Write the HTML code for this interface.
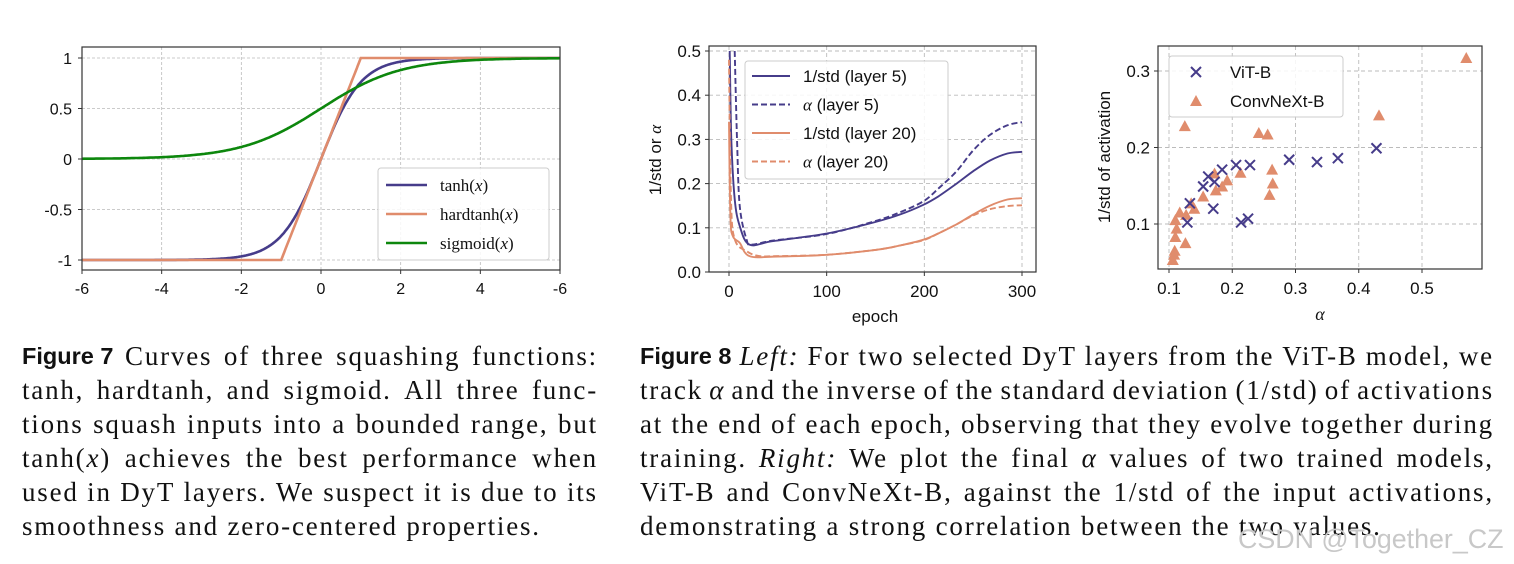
<!DOCTYPE html>
<html><head><meta charset="utf-8">
<style>
body{margin:0;background:#fff;width:1514px;height:564px;overflow:hidden;position:relative;font-family:"Liberation Sans",sans-serif}
svg{position:absolute;left:0;top:0}
.cap{position:absolute;font-family:"Liberation Serif",serif;font-size:27px;letter-spacing:1.8px;color:#111;line-height:34px}
.cap div{white-space:nowrap;height:34px}
.cap div.j{display:flex;justify-content:space-between}
.fl{font-family:"Liberation Sans",sans-serif;font-weight:bold;font-size:23.5px;letter-spacing:0}
.wm{position:absolute;left:1238px;top:524px;font-size:26.8px;color:#c8c8c8;font-family:"Liberation Sans",sans-serif}
</style></head><body>
<svg id="svg" width="1514" height="564"></svg>

<div class="cap" style="left:22px;top:339px;width:576px">
<div class="j"><span class="fl">Figure 7</span><span>Curves</span><span>of</span><span>three</span><span>squashing</span><span>functions:</span></div>
<div class="j"><span>tanh,</span><span>hardtanh,</span><span>and</span><span>sigmoid.</span><span>All</span><span>three</span><span>func-</span></div>
<div class="j"><span>tions</span><span>squash</span><span>inputs</span><span>into</span><span>a</span><span>bounded</span><span>range,</span><span>but</span></div>
<div class="j"><span>tanh(<i>x</i>)</span><span>achieves</span><span>the</span><span>best</span><span>performance</span><span>when</span></div>
<div class="j"><span>used</span><span>in</span><span>DyT</span><span>layers.</span><span>We</span><span>suspect</span><span>it</span><span>is</span><span>due</span><span>to</span><span>its</span></div>
<div>smoothness and zero-centered properties.</div>
</div>

<div class="cap" style="left:640px;top:339px;width:854px">
<div class="j"><span class="fl">Figure 8</span><span><i>Left:</i></span><span>For</span><span>two</span><span>selected</span><span>DyT</span><span>layers</span><span>from</span><span>the</span><span>ViT-B</span><span>model,</span><span>we</span></div>
<div class="j"><span>track</span><span><i>α</i></span><span>and</span><span>the</span><span>inverse</span><span>of</span><span>the</span><span>standard</span><span>deviation</span><span>(1/std)</span><span>of</span><span>activations</span></div>
<div class="j"><span>at</span><span>the</span><span>end</span><span>of</span><span>each</span><span>epoch,</span><span>observing</span><span>that</span><span>they</span><span>evolve</span><span>together</span><span>during</span></div>
<div class="j"><span>training.</span><span><i>Right:</i></span><span>We</span><span>plot</span><span>the</span><span>final</span><span><i>α</i></span><span>values</span><span>of</span><span>two</span><span>trained</span><span>models,</span></div>
<div class="j"><span>ViT-B</span><span>and</span><span>ConvNeXt-B,</span><span>against</span><span>the</span><span>1/std</span><span>of</span><span>the</span><span>input</span><span>activations,</span></div>
<div>demonstrating a strong correlation between the two values.</div>
</div>
<div class="wm">CSDN @Together_CZ</div>

<script>
// ---- Figure 7 data ----
const f7X = [-6,-5.5,-5,-4.5,-4,-3.5,-3,-2.75,-2.5,-2.25,-2,-1.75,-1.5,-1.25,-1,-0.75,-0.5,-0.25,0,0.25,0.5,0.75,1,1.25,1.5,1.75,2,2.25,2.5,2.75,3,3.5,4,4.5,5,5.5,6];
const f7XTicks = [-6,-4,-2,0,2,4,6];
const f7XTickLabels = ["-6","-4","-2","0","2","4","-6"];
const f7YTicks = [1,0.5,0,-0.5,-1];
const f7YTickLabels = ["1","0.5","0","-0.5","-1"];
// ---- Figure 8 left data ----
const epochsL5 = [0.7,2.4,5.8,11,21,45,100,148,175,199,215,233,250,267,285,300];
const stdL5 = [0.5,0.30,0.165,0.104,0.062,0.07,0.087,0.112,0.13,0.152,0.172,0.2,0.228,0.252,0.268,0.272];
const epochsA5 = [5.8,8.2,11,18,23,45,100,148,175,199,215,233,250,267,285,300];
const alphaL5 = [0.5,0.30,0.15,0.073,0.062,0.071,0.086,0.114,0.135,0.16,0.19,0.228,0.275,0.31,0.332,0.339];
const epochsL20 = [0,1.4,4,11,21,50,100,150,175,199,215,233,250,267,285,300];
const stdL20 = [0.34,0.127,0.081,0.066,0.036,0.035,0.039,0.05,0.06,0.073,0.088,0.108,0.13,0.15,0.164,0.167];
const epochsA20 = [0,2,6,18,31,50,100,150,175,199,215,233,250,267,285,300];
const alphaL20 = [0.48,0.164,0.073,0.047,0.036,0.036,0.039,0.05,0.06,0.072,0.088,0.108,0.128,0.142,0.149,0.151];
const f8lXTicks = [0,100,200,300];
const f8lYTicks = [0,0.1,0.2,0.3,0.4,0.5];
// ---- Figure 8 right data ----
const vitAlpha = [0.129,0.133,0.154,0.162,0.172,0.170,0.184,0.206,0.214,0.225,0.228,0.290,0.334,0.367,0.428];
const vitStd   = [0.102,0.127,0.149,0.162,0.155,0.120,0.171,0.177,0.102,0.107,0.177,0.184,0.181,0.186,0.199];
const cnxAlpha = [0.125,0.106,0.108,0.109,0.110,0.112,0.110,0.117,0.127,0.126,0.135,0.140,0.154,0.172,0.174,0.184,0.192,0.213,0.242,0.256,0.259,0.263,0.264,0.432,0.570];
const cnxStd   = [0.228,0.053,0.060,0.065,0.083,0.094,0.105,0.115,0.112,0.075,0.127,0.120,0.136,0.166,0.144,0.149,0.157,0.167,0.219,0.217,0.138,0.171,0.153,0.242,0.317];
const f8rXTicks = [0.1,0.2,0.3,0.4,0.5];
const f8rYTicks = [0.1,0.2,0.3];

const NS="http://www.w3.org/2000/svg";
const svg=document.getElementById('svg');
const PUR="#463c8a", ORG="#e08c6c", GRN="#0d870d";
function mk(tag,attrs,parent){const e=document.createElementNS(NS,tag);for(const k in attrs)e.setAttribute(k,attrs[k]);(parent||svg).appendChild(e);return e;}
function txt(s,x,y,size,anchor,parent,extra){const t=mk('text',Object.assign({x:x,y:y,'font-size':size,'text-anchor':anchor||'middle','font-family':'Liberation Sans, sans-serif',fill:'#111'},extra||{}),parent);t.textContent=s;return t;}
function grp(name){const g=mk('g',{});return g;}
function smooth(pts){let d='M'+pts[0][0].toFixed(1)+','+pts[0][1].toFixed(1);
 for(let i=0;i<pts.length-1;i++){const p0=pts[Math.max(0,i-1)],p1=pts[i],p2=pts[i+1],p3=pts[Math.min(pts.length-1,i+2)];
  const c1=[p1[0]+(p2[0]-p0[0])/6,p1[1]+(p2[1]-p0[1])/6],c2=[p2[0]-(p3[0]-p1[0])/6,p2[1]-(p3[1]-p1[1])/6];
  d+='C'+c1.map(v=>v.toFixed(1)).join(',')+' '+c2.map(v=>v.toFixed(1)).join(',')+' '+p2[0].toFixed(1)+','+p2[1].toFixed(1);}
 return d;}

// ===== Figure 7 =====
(function(){
 const L=82,R=560,T=47,B=270;
 const sx=v=>321+(v)*(R-L)/12;
 const sy=v=>159-(v)*101;
 const g=grp('figure-7-chart');
 const grid=grp('fig7-grid');g.appendChild(grid);
 f7XTicks.forEach(v=>{mk('line',{x1:sx(v),x2:sx(v),y1:T,y2:B,stroke:'#bbb','stroke-dasharray':'3,2','stroke-width':0.8},grid);});
 f7YTicks.forEach(v=>{mk('line',{x1:L,x2:R,y1:sy(v),y2:sy(v),stroke:'#bbb','stroke-dasharray':'3,2','stroke-width':0.8},grid);});
 const xt=grp('fig7-x-ticks');g.appendChild(xt);
 f7XTicks.forEach((v,i)=>{mk('line',{x1:sx(v),x2:sx(v),y1:B,y2:B+4,stroke:'#333'},xt);txt(f7XTickLabels[i],sx(v),B+24,16,'middle',xt);});
 const yt=grp('fig7-y-ticks');g.appendChild(yt);
 f7YTicks.forEach((v,i)=>{mk('line',{x1:L-4,x2:L,y1:sy(v),y2:sy(v),stroke:'#333'},yt);txt(f7YTickLabels[i],L-10,sy(v)+6,16,'end',yt);});
 const lines=[['tanh-line',PUR,x=>Math.tanh(x)],['hardtanh-line',ORG,x=>Math.max(-1,Math.min(1,x))],['sigmoid-line',GRN,x=>1/(1+Math.exp(-x))]];
 lines.forEach(([n,c,f])=>{
   const xs=[];for(let i=0;i<f7X.length-1;i++){for(let k=0;k<10;k++)xs.push(f7X[i]+(f7X[i+1]-f7X[i])*k/10);}xs.push(f7X[f7X.length-1]);
   const p=mk('path',{d:xs.map((x,i)=>(i?'L':'M')+sx(x).toFixed(1)+','+sy(f(x)).toFixed(1)).join(''),fill:'none',stroke:c,'stroke-width':2.6},g);
   
 });
 mk('rect',{x:L,y:T,width:R-L,height:B-T,fill:'none',stroke:'#333','stroke-width':1.2},g);
 const lg=grp('fig7-legend');g.appendChild(lg);
 mk('rect',{x:378,y:168,width:171,height:92,rx:3,fill:'#fff','fill-opacity':0.85,stroke:'#ccc'},lg);
 [['tanh(',PUR],['hardtanh(',ORG],['sigmoid(',GRN]].forEach(([s,c],i)=>{
  const y=185+i*29;
  mk('line',{x1:386,x2:427,y1:y,y2:y,stroke:c,'stroke-width':2.6},lg);
  const t=txt('',440,y+6,17,'start',lg,{'font-family':'Liberation Serif, serif'});
  t.innerHTML=s+'<tspan font-style="italic">x</tspan>)';
 });
})();

// ===== Figure 8 left =====
(function(){
 const L=709,R=1036,T=46,B=272;
 const sx=v=>729+v*(1022-729)/300;
 const sy=v=>272-v*(272-51)/0.5;
 const g=grp('figure-8-left-chart');
 const grid=grp('fig8l-grid');g.appendChild(grid);
 f8lXTicks.forEach(v=>mk('line',{x1:sx(v),x2:sx(v),y1:T,y2:B,stroke:'#bbb','stroke-dasharray':'4,3','stroke-width':0.9},grid));
 f8lYTicks.forEach(v=>mk('line',{x1:L,x2:R,y1:sy(v),y2:sy(v),stroke:'#bbb','stroke-dasharray':'4,3','stroke-width':0.9},grid));
 const xt=grp('fig8l-x-ticks');g.appendChild(xt);
 f8lXTicks.forEach(v=>{mk('line',{x1:sx(v),x2:sx(v),y1:B,y2:B+4,stroke:'#333'},xt);txt(String(v),sx(v),B+25,17,'middle',xt);});
 const yt=grp('fig8l-y-ticks');g.appendChild(yt);
 f8lYTicks.forEach(v=>{mk('line',{x1:L-4,x2:L,y1:sy(v),y2:sy(v),stroke:'#333'},yt);txt(v.toFixed(1),L-8,sy(v)+6,17,'end',yt);});
 const cp=mk('clipPath',{id:'c8l'});mk('rect',{x:L,y:T,width:R-L,height:B-T},cp);
 const ser=[['std-layer5-line',epochsL5,stdL5,PUR,null],['alpha-layer5-line',epochsA5,alphaL5,PUR,'6,3'],['std-layer20-line',epochsL20,stdL20,ORG,null],['alpha-layer20-line',epochsA20,alphaL20,ORG,'6,3']];
 ser.forEach(([n,xs,ys,c,d])=>{
  const a={d:smooth(xs.map((x,i)=>[sx(x),sy(ys[i])])),fill:'none',stroke:c,'stroke-width':1.9,'clip-path':'url(#c8l)','stroke-linejoin':'round'};
  if(d)a['stroke-dasharray']=d;
  const p=mk('path',a,g);
 });
 mk('rect',{x:L,y:T,width:R-L,height:B-T,fill:'none',stroke:'#333','stroke-width':1.2},g);
 const yl=txt('',661,160,17,'middle',g,{transform:'rotate(-90 661 160)'});yl.innerHTML='1/std or <tspan font-family="Liberation Serif, serif" font-style="italic">α</tspan>';
 
 const xl=txt('epoch',875,322,17,'middle',g);
 const lg=grp('fig8l-legend');g.appendChild(lg);
 mk('rect',{x:745,y:61,width:203,height:118,rx:3,fill:'#fff','fill-opacity':0.85,stroke:'#ccc'},lg);
 [['1/std (layer 5)',PUR,null],['α (layer 5)',PUR,'6,3'],['1/std (layer 20)',ORG,null],['α (layer 20)',ORG,'6,3']].forEach(([s,c,d],i)=>{
  const y=76+i*28.5;const a={x1:752,x2:790,y1:y,y2:y,stroke:c,'stroke-width':1.9};if(d)a['stroke-dasharray']=d;mk('line',a,lg);
  const t=txt('',803,y+6,17,'start',lg);
  if(s[0]==='α')t.innerHTML='<tspan font-family="Liberation Serif, serif" font-style="italic">α</tspan>'+s.slice(1);else t.textContent=s;
 });
})();

// ===== Figure 8 right =====
(function(){
 const L=1158,R=1482,T=46,B=269;
 const sx=v=>1169+(v-0.1)*(1422-1169)/0.4;
 const sy=v=>224-(v-0.1)*(224-71)/0.2;
 const g=grp('figure-8-right-chart');
 const grid=grp('fig8r-grid');g.appendChild(grid);
 f8rXTicks.forEach(v=>mk('line',{x1:sx(v),x2:sx(v),y1:T,y2:B,stroke:'#bbb','stroke-dasharray':'4,3','stroke-width':0.9},grid));
 f8rYTicks.forEach(v=>mk('line',{x1:L,x2:R,y1:sy(v),y2:sy(v),stroke:'#bbb','stroke-dasharray':'4,3','stroke-width':0.9},grid));
 const xt=grp('fig8r-x-ticks');g.appendChild(xt);
 f8rXTicks.forEach(v=>{mk('line',{x1:sx(v),x2:sx(v),y1:B,y2:B+4,stroke:'#333'},xt);txt(v.toFixed(1),sx(v),B+25,17,'middle',xt);});
 const yt=grp('fig8r-y-ticks');g.appendChild(yt);
 f8rYTicks.forEach(v=>{mk('line',{x1:L-4,x2:L,y1:sy(v),y2:sy(v),stroke:'#333'},yt);txt(v.toFixed(1),L-8,sy(v)+6,17,'end',yt);});
 const tri=(x,y,c,parent)=>mk('path',{d:`M${x},${y-6}L${x+6},${y+5}L${x-6},${y+5}Z`,fill:c},parent);
 const cross=(x,y,c,parent)=>mk('path',{d:`M${x-5},${y-5}L${x+5},${y+5}M${x-5},${y+5}L${x+5},${y-5}`,stroke:c,'stroke-width':2},parent);
 const cg=grp('convnext-points');g.appendChild(cg);
 cnxAlpha.forEach((a,i)=>{const p=tri(sx(a),sy(cnxStd[i]),ORG,cg);});
 const vg=grp('vit-points');g.appendChild(vg);
 vitAlpha.forEach((a,i)=>{const p=cross(sx(a),sy(vitStd[i]),PUR,vg);});
 mk('rect',{x:L,y:T,width:R-L,height:B-T,fill:'none',stroke:'#333','stroke-width':1.2},g);
 const yl=txt('1/std of activation',1110,157,17,'middle',g,{transform:'rotate(-90 1110 157)'});
 
 const xl=txt('α',1320,320,18,'middle',g,{'font-family':'Liberation Serif, serif','font-style':'italic'});
 
 const lg=grp('fig8r-legend');g.appendChild(lg);
 mk('rect',{x:1169,y:56,width:174,height:61,rx:3,fill:'#fff','fill-opacity':0.85,stroke:'#ccc'},lg);
 cross(1196,72,PUR,lg);txt('ViT-B',1230,78,17,'start',lg);
 tri(1196,101,ORG,lg);txt('ConvNeXt-B',1230,107,17,'start',lg);
})();
</script>
</body></html>
